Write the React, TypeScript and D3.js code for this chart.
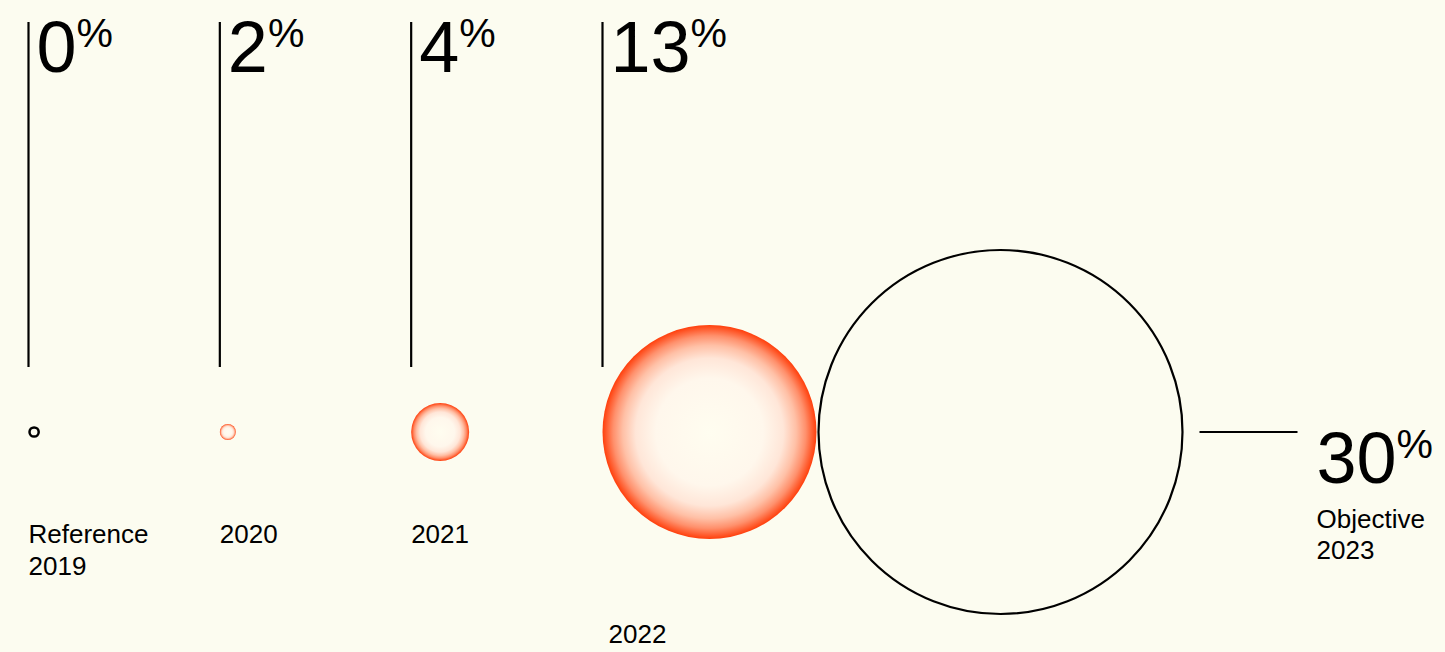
import React from "react";
import * as d3 from "d3";

// ---- data ----
const categoryLabels: string[][] = [["Reference", "2019"], ["2020"], ["2021"], ["2022"]];
const shareValues: number[] = [0, 2, 4, 13];
const objectiveLabel: string[] = ["Objective", "2023"];
const objectiveValue = 30;

const W = 1445;
const H = 652;
const BG = "#fcfcf0";
const FONT = "'Liberation Sans', Arial, Helvetica, sans-serif";

export default function App() {
  const colX = d3.scaleLinear().domain([0, shareValues.length - 1]).range([28.5, 602.5]);
  // bubble radius scale (piecewise)
  const rScale = d3.scaleLinear().domain([0, 2, 4, 13, 30]).range([4.6, 8, 29, 107, 182]);
  const cy = 432;
  const lineTop = 22;
  const lineBottom = 367;
  const bigSize = 72;
  const pctSize = 41;
  const labelSize = 26;

  const lastIdx = shareValues.length - 1;
  const lastR = rScale(shareValues[lastIdx]);
  const lastCx = colX(lastIdx) + lastR;
  const objR = rScale(objectiveValue);
  const objCx = lastCx + lastR + objR + 2;
  const hLineStart = objCx + objR + 17;
  const hLineEnd = hLineStart + 98;
  const objTextX = hLineEnd + 19;

  return (
    <svg
      width={W}
      height={H}
      style={{ position: "fixed", left: 0, top: 0, background: BG, display: "block" }}
      fontFamily={FONT}
    >
      <defs>
        <radialGradient id="glow" cx="50%" cy="50%" r="50%">
          <stop offset="0" stopColor="#fffdf0" />
          <stop offset="0.5" stopColor="#fff7ec" />
          <stop offset="0.69" stopColor="#ffe6d8" />
          <stop offset="0.81" stopColor="#ffc0a6" />
          <stop offset="0.9" stopColor="#ff906c" />
          <stop offset="1" stopColor="#ff3f0c" />
        </radialGradient>
      </defs>
      <rect x={0} y={0} width={W} height={H} fill={BG} />
      {shareValues.map((v, i) => {
        const x = colX(i);
        const r = rScale(v);
        const cx = v === 0 ? x + r + 1 : x + r;
        const labelY = cy + r > 500 ? 643 : 543;
        const labelX = cy + r > 500 ? x + 6 : x;
        return (
          <g key={i}>
            <line x1={x} x2={x} y1={lineTop} y2={lineBottom} stroke="#000" strokeWidth={2.2} />
            <text x={x + 8} y={72} fontSize={bigSize} fill="#000">
              {String(v)}
              <tspan fontSize={pctSize} dy={-25}>%</tspan>
            </text>
            {v === 0 ? (
              <circle cx={cx} cy={cy} r={r} fill="none" stroke="#000" strokeWidth={2.5} />
            ) : (
              <circle cx={cx} cy={cy} r={r} fill="url(#glow)" />
            )}
            {categoryLabels[i].map((t, j) => (
              <text key={j} x={labelX} y={labelY + j * 32} fontSize={labelSize} fill="#000">
                {t}
              </text>
            ))}
          </g>
        );
      })}
      <circle cx={objCx} cy={cy} r={objR} fill="none" stroke="#000" strokeWidth={2.2} />
      <line x1={hLineStart} x2={hLineEnd} y1={cy} y2={cy} stroke="#000" strokeWidth={2.2} />
      <text x={objTextX} y={483} fontSize={bigSize} fill="#000">
        {String(objectiveValue)}
        <tspan fontSize={pctSize} dy={-25}>%</tspan>
      </text>
      {objectiveLabel.map((t, j) => (
        <text key={j} x={objTextX} y={528 + j * 31} fontSize={labelSize} fill="#000">
          {t}
        </text>
      ))}
    </svg>
  );
}
